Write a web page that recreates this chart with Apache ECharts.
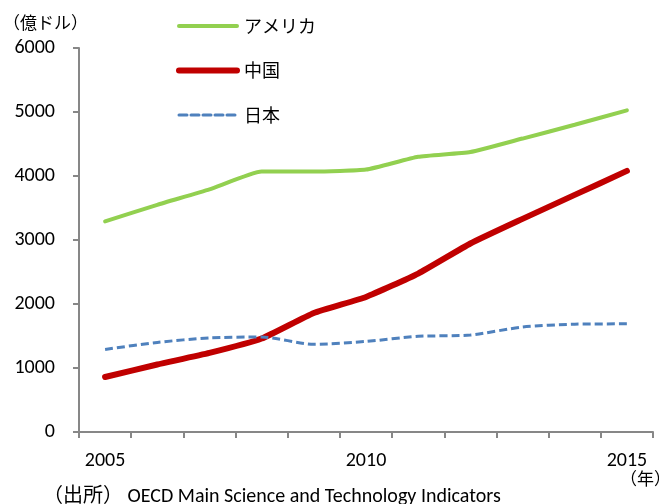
<!DOCTYPE html>
<html>
<head>
<meta charset="utf-8">
<script src="https://cdn.jsdelivr.net/npm/echarts@6/dist/echarts.min.js"></script>
<style>
  html, body { margin: 0; padding: 0; background: #fff; }
  #chart { width: 659px; height: 504px; }
</style>
</head>
<body>
<div id="chart"></div>
<script>
// 研究開発費の推移（億ドル）
const years = ['2005', '2006', '2007', '2008', '2009', '2010', '2011', '2012', '2013', '2014', '2015'];
const usa   = [3290, 3550, 3790, 4070, 4070, 4100, 4300, 4375, 4585, 4800, 5025];
const china = [860, 1055, 1235, 1460, 1860, 2110, 2475, 2945, 3330, 3705, 4080];
const japan = [1290, 1400, 1470, 1485, 1370, 1415, 1495, 1515, 1640, 1685, 1690];
const yTicks = { min: 0, max: 6000, step: 1000 };

const FONT = "Carlito, 'Noto Sans CJK JP', sans-serif";
const JP_FONT = "'Noto Sans CJK JP', sans-serif";
const AXIS_COLOR = '#878787';

const chart = echarts.init(document.getElementById('chart'));
chart.setOption({
  animation: false,
  textStyle: { fontFamily: FONT },
  grid: { left: 79, right: 6, top: 48, bottom: 72, containLabel: false },
  legend: {
    orient: 'vertical',
    left: 176,
    top: 17,
    padding: 0,
    itemWidth: 58,
    itemHeight: 18,
    itemGap: 26.5,
    // legend keys show only the line, no marker
    itemStyle: { color: 'rgba(0,0,0,0)', borderWidth: 0, opacity: 0 },
    lineStyle: { width: 'inherit', cap: 'round' },
    textStyle: { fontFamily: JP_FONT, fontSize: 18, color: '#000', padding: [0, 0, 0, 2] },
    data: ['アメリカ', '中国', '日本']
  },
  xAxis: {
    type: 'category',
    data: years,
    boundaryGap: true,
    axisLine: { lineStyle: { color: AXIS_COLOR, width: 2 } },
    axisTick: { show: true, interval: 0, length: 6, lineStyle: { color: AXIS_COLOR, width: 2 } },
    axisLabel: { interval: 4, margin: 19, fontSize: 20, color: '#000', fontFamily: FONT }
  },
  yAxis: {
    type: 'value',
    min: yTicks.min,
    max: yTicks.max,
    interval: yTicks.step,
    splitLine: { show: false },
    axisLine: { show: true, lineStyle: { color: AXIS_COLOR, width: 2 } },
    axisTick: { show: true, length: 6, lineStyle: { color: AXIS_COLOR, width: 2 } },
    axisLabel: { margin: 24, fontSize: 20, color: '#000', fontFamily: FONT,
                 formatter: v => String(v) }
  },
  series: [
    {
      name: 'アメリカ', type: 'line', data: usa, symbol: 'none', smooth: 0.15,
      lineStyle: { color: '#92D050', width: 4, cap: 'round' },
      itemStyle: { color: '#92D050' }
    },
    {
      name: '中国', type: 'line', data: china, symbol: 'none', smooth: 0.15,
      lineStyle: { color: '#C00000', width: 6, cap: 'round' },
      itemStyle: { color: '#C00000' }
    },
    {
      name: '日本', type: 'line', data: japan, symbol: 'none', smooth: 0.25,
      lineStyle: { color: '#4F81BD', width: 3, type: [8, 4] },
      itemStyle: { color: '#4F81BD' }
    }
  ],
  graphic: [
    { type: 'text', left: 3, top: 14,
      style: { text: '（億ドル）', font: "17px " + JP_FONT, fill: '#000' } },
    { type: 'text', left: 620, top: 470,
      style: { text: '（年）', font: "17px " + JP_FONT, fill: '#000' } },
    { type: 'text', left: 43, top: 487,
      style: { text: '（出所） OECD Main Science and Technology Indicators', font: "20px " + FONT, fill: '#000' } }
  ]
});
</script>
</body>
</html>
